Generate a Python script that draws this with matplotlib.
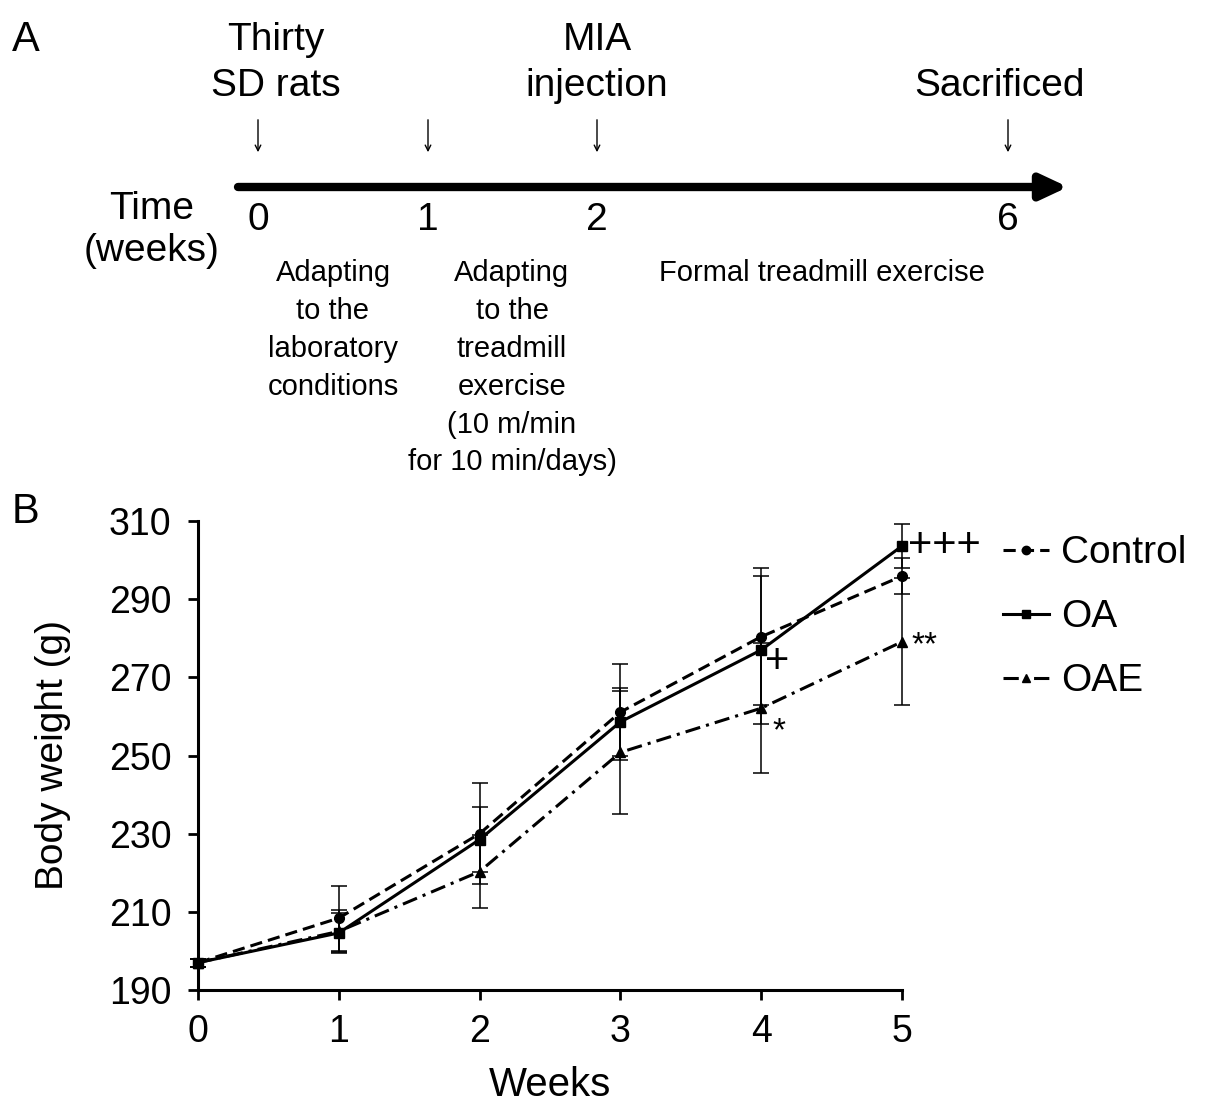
import numpy as np
import matplotlib
matplotlib.use('Agg')
import matplotlib.pyplot as plt
from matplotlib.lines import Line2D

plt.rcParams['font.family'] = ['Liberation Sans', 'DejaVu Sans']

# body weight data (g)
weeks = [0, 1, 2, 3, 4, 5]
control_mean = [197.0, 208.4, 230.0, 261.1, 280.4, 295.9]
control_sd = [1.0, 8.3, 13.0, 12.2, 17.5, 4.6]
oa_mean = [197.0, 204.6, 228.5, 258.6, 277.0, 303.6]
oa_sd = [1.0, 5.0, 8.4, 8.7, 18.9, 5.6]
oae_mean = [197.0, 205.0, 220.3, 250.8, 262.1, 279.1]
oae_sd = [1.0, 5.5, 9.4, 15.8, 16.6, 16.2]

# timeline for panel A
tl_weeks = ['0', '1', '2', '6']
tl_xpix = [258, 428, 597, 1008]
phases = ['Adapting\nto the\nlaboratory\nconditions',
          'Adapting\nto the\ntreadmill\nexercise\n(10 m/min\nfor 10 min/days)',
          'Formal treadmill exercise']
phase_xpix = [333, 512, 822]

W, H = 1205, 1116
fig = plt.figure(figsize=(W / 100, H / 100), dpi=100)

# ---- panel A: overlay in pixel coordinates ----
ov = fig.add_axes([0, 0, 1, 1])
ov.set_xlim(0, W)
ov.set_ylim(H, 0)
ov.axis('off')

ov.text(12, 40, 'A', fontsize=30, va='center', ha='left')
ov.text(12, 512, 'B', fontsize=30, va='center', ha='left')

# main arrow
ov.annotate('', xy=(1068, 187), xytext=(238, 187),
            arrowprops=dict(arrowstyle='-|>,head_length=1.6,head_width=0.75',
                            lw=6, color='black', shrinkA=0, shrinkB=0))
ov.text(152, 230, 'Time\n(weeks)', fontsize=28, ha='center', va='center',
        linespacing=1.2)

for lab, xp in zip(tl_weeks, tl_xpix):
    ov.text(xp, 220, lab, fontsize=28, ha='center', va='center')
    ov.annotate('', xy=(xp, 155), xytext=(xp, 117),
                arrowprops=dict(arrowstyle='->', lw=1.0, color='black'))

ov.text(tl_xpix[0] + 18, 63, 'Thirty\nSD rats', fontsize=28, ha='center',
        va='center', linespacing=1.35)
ov.text(tl_xpix[2], 63, 'MIA\ninjection', fontsize=28, ha='center',
        va='center', linespacing=1.35)
ov.text(1000, 86, 'Sacrificed', fontsize=28, ha='center', va='center')

for txt, xp in zip(phases, phase_xpix):
    ov.text(xp, 259, txt, fontsize=21, ha='center', va='top',
            linespacing=1.45)

# ---- panel B ----
ax = fig.add_axes([198 / W, 1 - 990 / H, 704 / W, 469 / H])
ax.set_zorder(2)
ax.patch.set_alpha(0)

ekw = dict(color='black', ecolor='black', elinewidth=1.1, capsize=6,
           capthick=1.1, markersize=7, lw=2.2, clip_on=False)
ctl_ls = (0, (4, 2))
oae_ls = (0, (5, 2, 1, 2))
ax.errorbar(weeks, control_mean, yerr=control_sd, fmt='o', ls=ctl_ls, **ekw)
ax.errorbar(weeks, oa_mean, yerr=oa_sd, fmt='s', ls='-', **ekw)
ax.errorbar(weeks, oae_mean, yerr=oae_sd, fmt='^', ls=oae_ls, **ekw)

ax.set_xlim(0, 5)
ax.set_ylim(190, 310)
ax.set_xticks(weeks)
ax.set_yticks(np.arange(190, 311, 20))
ax.tick_params(labelsize=27, width=2, length=7)
ax.tick_params(axis='y', pad=12)
ax.tick_params(axis='x', pad=10)
for s in ['top', 'right']:
    ax.spines[s].set_visible(False)
for s in ['left', 'bottom']:
    ax.spines[s].set_linewidth(2.2)
ax.set_xlabel('Weeks', fontsize=29, labelpad=12)
ax.set_ylabel('Body weight (g)', fontsize=28, labelpad=27)

# significance marks
ax.text(5.04, oa_mean[5], '+++', fontsize=30, ha='left', va='center')
ax.text(5.07, oae_mean[5] - 1, '**', fontsize=24, ha='left', va='center')
ax.text(4.03, oa_mean[4] - 3, '+', fontsize=30, ha='left', va='center')
ax.text(4.08, oae_mean[4] - 6, '*', fontsize=24, ha='left', va='center')

handles = [Line2D([], [], color='black', ls=ctl_ls, marker='o', ms=6, lw=2.2),
           Line2D([], [], color='black', ls='-', marker='s', ms=6, lw=2.2),
           Line2D([], [], color='black', ls=oae_ls, marker='^', ms=6, lw=2.2)]
ax.legend(handles, ['Control', 'OA', 'OAE'], loc='upper left',
          bbox_to_anchor=(1.121, 1.003), frameon=False, fontsize=28,
          handlelength=1.2, handletextpad=0.3, labelspacing=0.72,
          borderaxespad=0)

fig.savefig('out.png', dpi=100)
